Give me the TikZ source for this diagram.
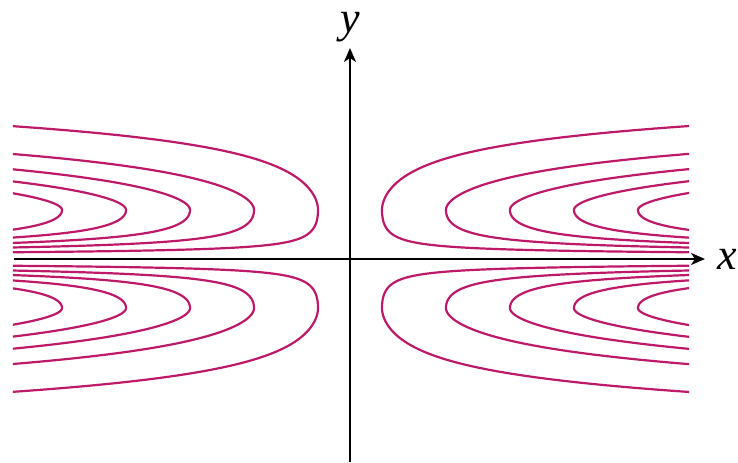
\documentclass[tikz,border=0pt]{standalone}
\usepackage{fontspec}
\setmainfont{Liberation Serif}
\usetikzlibrary{arrows.meta,positioning}
\tikzset{>=Stealth}
\definecolor{solpink}{RGB}{190,25,105}
\tikzset{
  axis/.style={-{Stealth[length=7pt,width=6pt,inset=2pt]}, line width=1pt},
  solution/.style={draw=solpink, line width=1.1pt, smooth, samples=120, variable=\t},
  axislabel/.style={font=\fontsize{22}{22}\selectfont\itshape, inner sep=0pt},
}

\begin{document}
\begin{tikzpicture}[x=0.5pt, y=0.5pt]
\useasboundingbox (-350,-203) rectangle (388,259);

% solution curves, one family per quadrant
\begin{scope}
\clip (-337,-200) rectangle (339,200);
\foreach \k in {32,96,160,224,288}{
  \foreach \sx in {-1,1}{
    \foreach \sy in {-1,1}{
      \draw[solution] plot[domain=-2:0] ({\sx*\k*exp(0.6*\t*\t)},{\sy*49*exp(\t)})
                      plot[domain=0:1.05] ({\sx*\k*exp(3.3*(exp(\t)-1-\t))},{\sy*49*exp(\t)});
    }
  }
}
\end{scope}

% axes
\coordinate (xstart) at (-336,0);
\coordinate (xtip) at (355,0);
\coordinate (ystart) at (0,-203);
\coordinate (ytip) at (0,211);
\draw[axis] (xstart) -- (xtip);
\draw[axis] (ystart) -- (ytip);
\node[axislabel, right=6pt of xtip] (xlab) {x};
\node[axislabel, above=3pt of ytip] (ylab) {y};

\end{tikzpicture}
\end{document}
